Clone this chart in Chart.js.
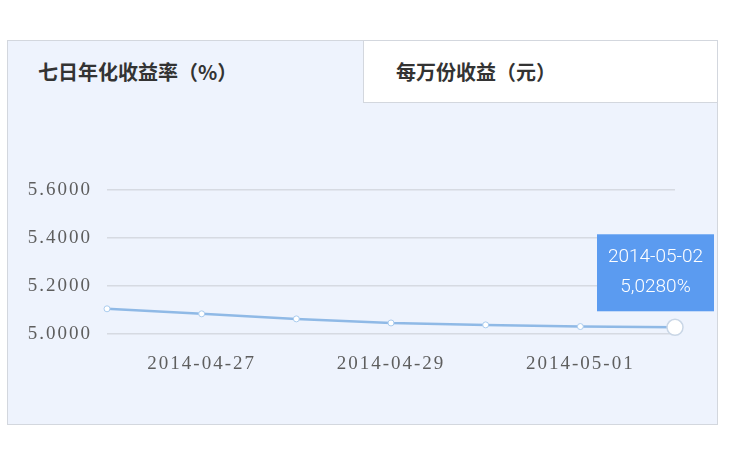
<!DOCTYPE html>
<html>
<head>
<meta charset="utf-8">
<script src="https://cdn.jsdelivr.net/npm/chart.js@4/dist/chart.umd.min.js"></script>
<style>
  body { margin: 0; background: #fff; width: 750px; height: 450px; position: relative; overflow: hidden; }
  #panel { position: absolute; left: 7px; top: 40px; width: 709px; height: 383px;
           border: 1px solid #d3d7de; background: #eef3fd; }
  .tab { position: absolute; top: 0; height: 62px; line-height: 62px; box-sizing: border-box;
         font-family: "Noto Sans CJK SC", sans-serif; font-weight: bold; font-size: 20px; color: #333; }
  #tab1 { left: 0; width: 355px; padding-left: 30px; }
  #tab2 { left: 355px; width: 354px; padding-left: 32px; background: #fff;
          border-left: 1px solid #d3d7de; border-bottom: 1px solid #d3d7de; }
  #chart { position: absolute; left: 0; top: 0; }
</style>
</head>
<body>
<div id="panel">
  <div class="tab" id="tab1">七日年化收益率（%）</div>
  <div class="tab" id="tab2">每万份收益（元）</div>
</div>
<canvas id="chart" width="750" height="450"></canvas>
<script>
// fechas y rendimiento (7 días)
const fechas = ['2014-04-26', '2014-04-27', '2014-04-28', '2014-04-29', '2014-04-30', '2014-05-01', '2014-05-02'];
const rendimiento = [5.105, 5.084, 5.063, 5.046, 5.038, 5.031, 5.028];
const etiquetasX = ['2014-04-27', '2014-04-29', '2014-05-01'];
const ticksY = [5.0, 5.2, 5.4, 5.6];

const ultimo = rendimiento.length - 1;

// tooltip fijo sobre el último punto
const tooltipFijo = {
    id: 'tooltipFijo',
    beforeDraw(chart) {
        chart.ctx.letterSpacing = '2px';
    },
    afterDraw(chart) {
        const pt = chart.getDatasetMeta(0).data[ultimo];
        const ctx = chart.ctx;
        const w = 117, h = 77;
        const x = pt.x + 39 - w, y = pt.y - 16 - h;
        ctx.save();
        ctx.letterSpacing = '0px';
        ctx.fillStyle = '#5b9bf0';
        ctx.fillRect(x, y, w, h);
        ctx.fillStyle = '#ffffff';
        ctx.font = '300 19px Roboto';
        ctx.textAlign = 'center';
        ctx.textBaseline = 'middle';
        ctx.fillText(fechas[ultimo], x + w / 2, y + 23);
        ctx.fillText(rendimiento[ultimo].toFixed(4).replace('.', ',') + '%', x + w / 2, y + 53);
        ctx.restore();
    }
};

const ctx = document.getElementById('chart').getContext('2d');
const grafico = new Chart(ctx, {
    type: 'line',
    data: {
        labels: fechas,
        datasets: [{
            data: rendimiento,
            borderColor: '#8fb9e6',
            borderWidth: 2.5,
            tension: 0,
            clip: false,
            pointBackgroundColor: '#ffffff',
            pointBorderColor: rendimiento.map((v, i) => i === ultimo ? '#c9d6e6' : '#a9cbee'),
            pointBorderWidth: rendimiento.map((v, i) => i === ultimo ? 1.5 : 1),
            pointRadius: rendimiento.map((v, i) => i === ultimo ? 8 : 3)
        }]
    },
    options: {
        responsive: false,
        animation: false,
        layout: { padding: { top: 190, right: 75, bottom: 66, left: 0 } },
        plugins: { legend: { display: false }, tooltip: { enabled: false } },
        scales: {
            x: {
                border: { display: false },
                grid: { display: false },
                afterFit: (s) => { s.height = 50; },
                ticks: {
                    autoSkip: false,
                    maxRotation: 0,
                    padding: 11,
                    color: '#5e5e5e',
                    font: { family: 'Liberation Serif', size: 19 },
                    callback: function (v, i) {
                        const lab = fechas[i];
                        return etiquetasX.includes(lab) ? lab : '';
                    }
                }
            },
            y: {
                min: ticksY[0],
                max: ticksY[ticksY.length - 1],
                border: { display: false },
                afterFit: (s) => { s.width = 107; },
                afterBuildTicks: (s) => { s.ticks = ticksY.map(v => ({ value: v })); },
                grid: { color: '#d6dae2', lineWidth: 1.5, drawTicks: false },
                ticks: {
                    padding: 15,
                    color: '#5e5e5e',
                    font: { family: 'Liberation Serif', size: 19 },
                    callback: (v) => Number(v).toFixed(4)
                }
            }
        }
    },
    plugins: [tooltipFijo]
});
</script>
</body>
</html>
